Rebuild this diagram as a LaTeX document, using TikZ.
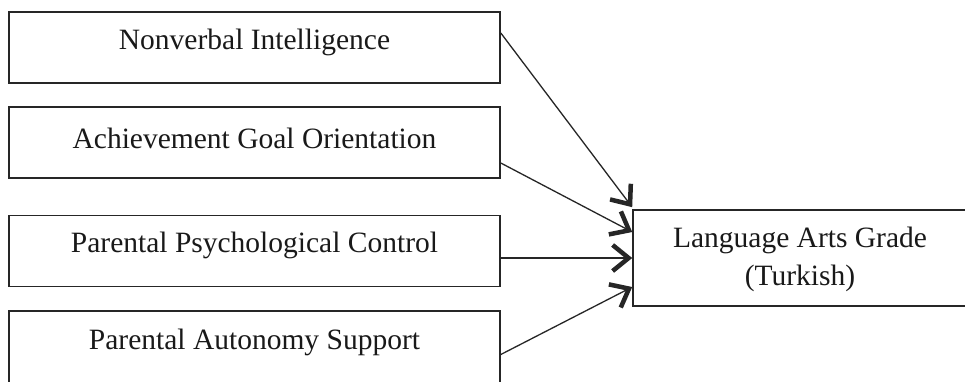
\documentclass[tikz,border=0pt]{standalone}
\usepackage{fontspec}
\setmainfont{Liberation Serif}
\usetikzlibrary{arrows.meta}
\tikzset{
  srcbox/.style={draw=black!85, line width=1.6pt, rectangle, minimum width=491pt, minimum height=71pt, inner sep=0pt},
  tgtbox/.style={draw=black!85, line width=1.6pt, rectangle, minimum width=346pt, minimum height=96pt, inner sep=0pt},
  lbl/.style={font=\fontsize{29.5}{38}\selectfont, align=center, inner sep=0pt, text=black!90},
  link/.style={draw=black!85, line width=1.3pt, -{Straight Barb[length=16pt, width=26pt, line width=4.5pt]}}
}
\begin{document}
\begin{tikzpicture}[x=1pt, y=-1pt]
\clip (0,0) rectangle (965,381);
\fill[white] (0,0) rectangle (965,381);
\node[srcbox] (n1) at (254.5,47.5) {};
\node[srcbox] (n2) at (254.5,142.5) {};
\node[srcbox] (n3) at (254.5,251) {};
\node[srcbox, minimum height=85pt] (n4) at (254.5,353.5) {};
\node[tgtbox] (t) at (806,258) {};
\node[lbl] (l1) at (254.5,42) {Nonverbal Intelligence};
\node[lbl] (l2) at (254.5,138) {Achievement Goal Orientation};
\node[lbl] (l3) at (254.5,245) {Parental Psychological Control};
\node[lbl] (l4) at (254.5,342) {Parental Autonomy Support};
\node[lbl] (lt) at (800,259) {Language Arts Grade\\(Turkish)};
\draw[link] ([yshift=14.5pt]n1.east) -- ([yshift=2pt]t.north west);
\draw[link] ([yshift=-20.5pt]n2.east) -- ([yshift=26pt]t.west);
\draw[link] ([yshift=-7pt]n3.east) -- (t.west);
\draw[link] ([yshift=-1pt]n4.west -| n4.east) -- ([yshift=-29pt]t.west);
\end{tikzpicture}
\end{document}
